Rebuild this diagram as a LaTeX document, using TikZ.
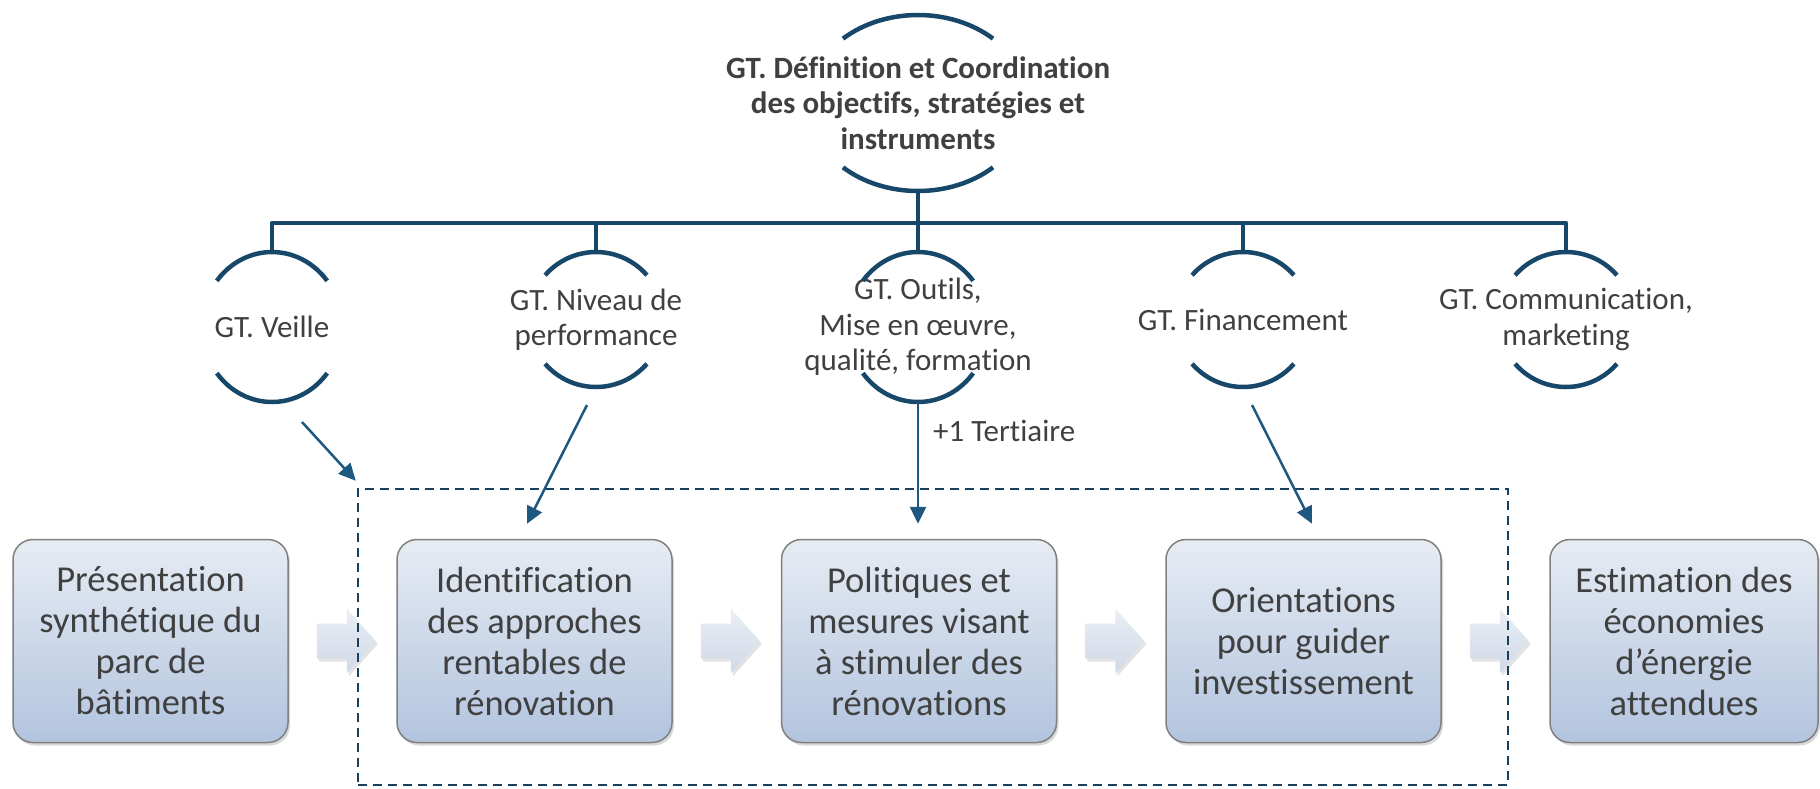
\documentclass[tikz,border=0pt]{standalone}
\usepackage{fontspec}
\setmainfont{Carlito}[Ligatures=NoCommon]
\usetikzlibrary{arrows.meta,calc,shadows}
\definecolor{navy}{RGB}{23,72,106}
\definecolor{arrblue}{RGB}{30,88,128}
\definecolor{dashc}{RGB}{22,64,94}
\definecolor{txt}{RGB}{64,64,64}
\definecolor{boxtop}{RGB}{231,236,244}
\definecolor{boxbot}{RGB}{178,196,222}
\definecolor{boxline}{RGB}{128,128,128}
\definecolor{bartop}{RGB}{234,238,245}
\definecolor{barbot}{RGB}{208,217,231}
\newcommand\gtarcs[4]{%
  \draw[arcst] ($(#1.center)+(#4:#2 and #3)$) arc[start angle=#4, end angle=180-#4, x radius=#2, y radius=#3];
  \draw[arcst] ($(#1.center)+(180+#4:#2 and #3)$) arc[start angle=180+#4, end angle=360-#4, x radius=#2, y radius=#3];
}
\newcommand\barrowafter[1]{%
  \path[barrow] ($(#1.east)+(28,17.5)$) -- ++(30,0) -- ++(0,15) -- ++(29,-32.5) -- ++(-29,-32.5) -- ++(0,15) -- ++(-30,0) -- cycle;
}
\begin{document}
\begin{tikzpicture}[x=1pt,y=1pt,
  lbl/.style={align=center, text=txt, font=\fontsize{31}{35.5}\selectfont, inner sep=0pt},
  toplbl/.style={align=center, text=txt, font=\fontsize{31}{35.5}\selectfont\bfseries, inner sep=0pt},
  arcst/.style={draw=navy, line width=4.5pt},
  bus/.style={draw=navy, line width=4.5pt, line join=round},
  stepbox/.style={rectangle, rounded corners=20pt, draw=boxline, line width=1.5pt,
    top color=boxtop, bottom color=boxbot, minimum width=275pt, minimum height=203pt,
    align=center, text=txt, font=\fontsize{36.5}{41}\selectfont, inner sep=0pt,
    drop shadow={shadow xshift=2pt, shadow yshift=-3pt, opacity=0.3}},
  barrow/.style={top color=bartop, bottom color=barbot,
    drop shadow={shadow xshift=2pt, shadow yshift=-3pt, opacity=0.22}},
  dashbox/.style={draw=dashc, line width=2.5pt, dash pattern=on 9pt off 6pt,
    minimum width=1150pt, minimum height=296pt, inner sep=0pt},
  link/.style={draw=arrblue, line width=2.5pt, -{Triangle[length=17pt,width=16pt]}}
]
\useasboundingbox (0,0) rectangle (1820,-788);

% top circle
\node[toplbl] (top) at (918,-103) {GT. Définition et Coordination\\des objectifs, stratégies et\\instruments};
\gtarcs{top}{110}{88}{47}

% GT circles
\node[lbl] (veille) at (272,-327) {GT. Veille};
\node[lbl] (niveau) at (596,-319.5) {GT. Niveau de\\performance};
\node[lbl] (outils) at (918,-327) {GT. Outils,\\Mise en œuvre,\\qualité, formation};
\node[lbl] (fin) at (1243,-319.5) {GT. Financement};
\node[lbl] (comm) at (1566,-319.5) {GT. Communication,\\marketing};
\gtarcs{veille}{70}{75}{38}
\gtarcs{niveau}{67.5}{67.5}{41}
\gtarcs{outils}{70}{75}{38}
\gtarcs{fin}{67.5}{67.5}{41}
\gtarcs{comm}{67.5}{67.5}{41}

\coordinate (vtop) at ($(veille.center)+(0,75)$);
\coordinate (ntop) at ($(niveau.center)+(0,67.5)$);
\coordinate (otop) at ($(outils.center)+(0,75)$);
\coordinate (ftop) at ($(fin.center)+(0,67.5)$);
\coordinate (ctop) at ($(comm.center)+(0,67.5)$);
\coordinate (tbot) at ($(top.center)+(0,-88)$);
\coordinate (busl) at (272,-223);

\draw[bus] (vtop) -- (busl) -| (ctop);
\draw[bus] (ntop) -- (ntop |- busl);
\draw[bus] (ftop) -- (ftop |- busl);
\draw[bus] (tbot) -- (otop);

% process boxes
\node[stepbox] (b1) at (150.5,-641) {Présentation\\synthétique du\\parc de\\bâtiments};
\node[stepbox] (b2) at (534.5,-641) {Identification\\des approches\\rentables de\\rénovation};
\node[stepbox] (b3) at (919,-641) {Politiques et\\mesures visant\\à stimuler des\\rénovations};
\node[stepbox] (b4) at (1303.5,-641) {Orientations\\pour guider\\investissement};
\node[stepbox, minimum width=268pt] (b5) at (1684,-641) {Estimation des\\économies\\d’énergie\\attendues};

\barrowafter{b1}
\barrowafter{b2}
\barrowafter{b3}
\barrowafter{b4}

% dashed group
\node[dashbox] (grp) at (933,-637) {};

% links
\coordinate (vs) at ($(veille.center)+(30,-95)$);
\coordinate (ns) at ($(niveau.center)+(-9,-85.5)$);
\coordinate (os) at ($(outils.center)+(0,-75)$);
\coordinate (fs) at ($(fin.center)+(9,-85.5)$);
\draw[link] (vs) -- ($(grp.north west)+(-1,7)$);
\draw[link] (ns) -- ($(b2.north)+(-7.5,15)$);
\draw[link] (os) -- ($(os |- b3.north)+(0,15)$);
\draw[link] (fs) -- ($(b4.north)+(8.5,15)$);

\node[lbl, anchor=base west] (tert) at (933,-441) {+1 Tertiaire};
\end{tikzpicture}
\end{document}
